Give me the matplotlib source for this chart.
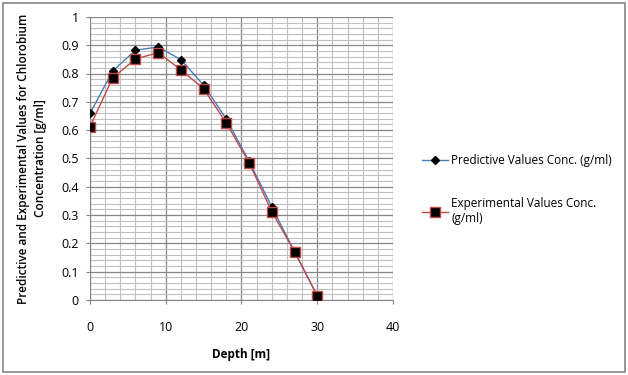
import matplotlib
matplotlib.use("Agg")
import matplotlib.pyplot as plt
from matplotlib.patches import Rectangle
from matplotlib.ticker import MultipleLocator, FuncFormatter

depth = [0, 3, 6, 9, 12, 15, 18, 21, 24, 27, 30]
predictive = [0.659, 0.809, 0.882, 0.894, 0.849, 0.759, 0.639, 0.490, 0.329, 0.171, 0.015]
experimental = [0.612, 0.785, 0.851, 0.874, 0.813, 0.746, 0.625, 0.485, 0.312, 0.171, 0.015]

pred_label = "Predictive Values Conc. (g/ml)"
exp_label = "Experimental Values Conc.\n(g/ml)"
xlabel = "Depth [m]"
ylabel = "Predictive and Experimental Values for Chlorobium\nConcentration [g/ml]"


def fmt_y(v, pos):
    # 0 and 1 without decimals, like the original
    if abs(v) < 1e-9 or abs(v - 1) < 1e-9:
        return f"{v:.0f}"
    return f"{v:.1f}"


plt.rcParams.update({"font.family": ["Open Sans", "DejaVu Sans"], "font.size": 8.5})

fig = plt.figure(figsize=(6.28, 3.75), dpi=100)
fig.patches.append(Rectangle((0.004, 0.008), 0.991, 0.983, transform=fig.transFigure,
                             fill=False, edgecolor="#868686", linewidth=1.2))

ax = fig.add_axes([0.1433, 0.2, 0.4825, 0.755])

ax.plot(depth, predictive, color="#4a7ebb", linewidth=1.0, marker="D", markersize=4,
        markerfacecolor="black", markeredgecolor="black", label=pred_label, zorder=3)
ax.plot(depth, experimental, color="#be4b48", linewidth=1.0, marker="s", markersize=7,
        markerfacecolor="black", markeredgecolor="#be4b48", markeredgewidth=1.0,
        label=exp_label, zorder=4)

ax.set_xlim(0, 40)
ax.set_ylim(0, 1)
ax.xaxis.set_major_locator(MultipleLocator(10))
ax.xaxis.set_minor_locator(MultipleLocator(2))
ax.yaxis.set_major_locator(MultipleLocator(0.1))
ax.yaxis.set_minor_locator(MultipleLocator(0.02))
ax.yaxis.set_major_formatter(FuncFormatter(fmt_y))

ax.grid(which="major", color="#868686", linewidth=0.9)
ax.grid(which="minor", color="#c0c0c0", linewidth=0.8)
ax.set_axisbelow(True)
ax.tick_params(which="major", direction="out", length=3, color="#868686",
               labelsize=9)
ax.tick_params(which="minor", length=0)
ax.tick_params(axis="y", pad=5)
ax.tick_params(axis="x", pad=12)
for side in ["top", "right"]:
    ax.spines[side].set_visible(False)
for side in ["left", "bottom"]:
    ax.spines[side].set_color("#868686")

ax.set_xlabel(xlabel, fontweight="bold", labelpad=10)
ax.set_ylabel(ylabel, fontweight="semibold", labelpad=10, linespacing=1.45)

ax.legend(loc="center left", bbox_to_anchor=(1.06, 0.39), frameon=False,
          labelspacing=2.6, handlelength=2.2, handletextpad=0.3, fontsize=8.5)

fig.savefig("out.png", dpi=100)
